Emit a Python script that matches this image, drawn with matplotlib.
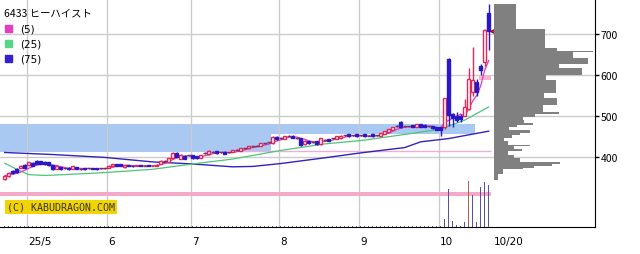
import matplotlib.pyplot as plt
import numpy as np
import pandas as pd
from matplotlib.patches import Rectangle

plt.rcParams['font.family'] = ['Noto Sans CJK JP', 'DejaVu Sans']

# daily candles 2025/4/22 .. 2025/10/20 (trading days)
opens = [346, 354, 367, 371, 373, 380, 380, 385, 390, 390, 389, 387, 380, 371, 375, 372,
         374, 371, 375, 371, 372, 372, 373, 373, 373, 372, 374, 377, 383, 382, 375, 380,
         379, 378, 380, 379, 380, 378, 379, 383, 391, 389, 397, 410, 396, 403, 405, 405,
         402, 398, 410, 407, 413, 414, 411, 413, 411, 412, 418, 415, 422, 421, 426, 428,
         428, 433, 436, 433, 449, 447, 444, 452, 452, 447, 446, 431, 438, 437, 438, 431,
         442, 444, 446, 444, 446, 453, 455, 453, 455, 453, 455, 452, 455, 453, 452, 457,
         460, 466, 476, 485, 475, 475, 478, 474, 480, 479, 475, 475, 472, 472, 472, 640,
         505, 500, 499, 501, 517, 559, 582, 623, 631, 751]
closes = [354, 361, 360, 364, 378, 374, 387, 379, 384, 384, 382, 380, 371, 379, 370, 372,
          370, 377, 371, 371, 370, 372, 371, 370, 373, 372, 379, 383, 379, 378, 380, 378,
          377, 380, 378, 379, 378, 379, 381, 391, 391, 397, 410, 400, 406, 396, 405, 397,
          398, 405, 410, 415, 413, 409, 411, 408, 411, 416, 418, 421, 422, 427, 426, 428,
          433, 433, 436, 449, 443, 447, 451, 452, 447, 447, 430, 440, 433, 437, 431, 446,
          442, 440, 446, 451, 452, 453, 450, 453, 450, 453, 450, 452, 450, 453, 458, 463,
          468, 472, 476, 472, 475, 475, 473, 480, 474, 474, 475, 470, 467, 466, 543, 502,
          495, 491, 492, 521, 590, 588, 558, 611, 711, 708]
highs = [356, 363, 368, 372, 380, 382, 389, 387, 392, 391, 390, 388, 381, 380, 376, 374,
         375, 378, 376, 373, 373, 373, 374, 374, 374, 374, 380, 384, 384, 383, 381, 381,
         380, 381, 381, 381, 381, 380, 382, 392, 393, 398, 411, 412, 407, 404, 406, 406,
         403, 406, 411, 416, 414, 415, 412, 414, 412, 417, 419, 422, 423, 428, 427, 429,
         434, 434, 437, 450, 450, 448, 452, 453, 453, 448, 447, 441, 439, 438, 439, 447,
         443, 445, 447, 452, 453, 454, 456, 454, 456, 454, 456, 453, 456, 454, 459, 464,
         469, 473, 477, 488, 476, 476, 479, 481, 481, 480, 476, 476, 473, 473, 543, 641,
         508, 510, 504, 541, 616, 668, 590, 626, 712, 773]
lows = [344, 352, 358, 362, 372, 372, 378, 377, 383, 383, 380, 379, 369, 370, 369, 370,
        369, 370, 370, 369, 369, 370, 370, 369, 371, 371, 373, 376, 378, 377, 374, 377,
        376, 377, 377, 378, 377, 377, 378, 382, 389, 388, 396, 399, 395, 395, 403, 396,
        396, 397, 408, 406, 411, 408, 409, 407, 409, 411, 416, 414, 420, 420, 424, 426,
        427, 431, 434, 432, 442, 445, 443, 450, 446, 445, 428, 430, 432, 435, 430, 430,
        440, 439, 444, 443, 445, 451, 449, 451, 449, 451, 449, 450, 449, 451, 451, 456,
        459, 465, 474, 470, 473, 473, 472, 473, 473, 473, 473, 469, 466, 452, 468, 476,
        474, 485, 486, 499, 515, 549, 549, 600, 622, 660]

# volume (thousand shares)
vol = [12] * 110 + [80, 380, 66, 23, 10, 53, 466, 326, 53, 406, 456, 426]

# 25 / 75 day moving averages (day index, price)
ma25_day = [0, 3, 6, 10, 15, 25, 37, 47, 57, 69, 80, 89, 100, 109, 115, 121]
ma25_val = [385, 370, 357, 355, 357, 362, 370, 383, 395, 416, 432, 440, 455, 468, 490, 522]
ma75_day = [0, 12, 25, 37, 47, 57, 62, 69, 80, 89, 100, 104, 111, 121]
ma75_val = [411, 406, 399, 388, 383, 376, 377, 384, 398, 410, 423, 437, 445, 463]

# price-by-volume profile
prof_lo = [712, 667, 659, 657, 641, 626, 618, 599, 589, 555, 543, 528, 510, 506, 498, 490,
           482, 478, 474, 466, 458, 454, 446, 438, 430, 426, 420, 414, 406, 398, 389, 383,
           379, 374, 370, 358, 345]
prof_hi = [773, 712, 667, 659, 657, 641, 626, 618, 599, 589, 555, 543, 528, 510, 506, 498,
           490, 482, 478, 474, 466, 458, 454, 446, 438, 430, 426, 420, 414, 406, 398, 389,
           383, 379, 374, 370, 358]
prof_vol = [22, 51, 63, 99, 79, 94, 65, 88, 52, 62, 50, 63, 49, 65, 41, 29,
            30, 39, 23, 15, 36, 26, 18, 10, 14, 36, 20, 28, 14, 20, 26, 66,
            58, 40, 29, 9, 4]

# resistance zone: top price, and lower edge per stretch of days
band_hi = 480
band_day = [-1.2, 66.5, 66.5, 117.5]
band_lo = [413, 413, 455, 455]
support_lo, support_hi = 304, 314 # support zone
pink_level = 414
target_lo, target_hi = 588, 598

month_pos = [5.5, 25.5, 46.5, 68.5, 88.5, 108.5]
month_lbl = ['25/5', '6', '7', '8', '9', '10']

n = len(closes)
days = np.arange(n)
o = np.array(opens)
c = np.array(closes)
h = np.array(highs)
l = np.array(lows)
ma5 = pd.Series(closes).rolling(5, min_periods=1).mean()

W, H = 640, 255
fig = plt.figure(figsize=(6.4, 2.55), dpi=100)
rect = [0, 1 - 228.3 / H, 595 / W, 228.3 / H]
ax = fig.add_axes(rect)
x0, x1 = -4.7 / 4, (595 - 4.7) / 4
ax.set_xlim(x0, x1)
ax.set_ylim(228.5, 785.4)

# zones
ax.fill_between(band_day, band_lo, band_hi, color='#a9c8f2', lw=0, zorder=0)
ax.fill_between([x0, 121.6], support_lo, support_hi, color='#f4a9c9', lw=0, zorder=1)
ax.hlines(pink_level, 55, 121.6, color='#eab0d8', lw=1, zorder=1)
ax.fill_between([118.6, 121.6], target_lo, target_hi, color='#f6b3d0', lw=0, zorder=1)

# grid
for p in month_pos:
    ax.axvline(p, color='#cccccc', lw=1, zorder=0.5)
for v in [400, 500, 600, 700]:
    ax.axhline(v, color='#cccccc', lw=1, zorder=0.5)

# volume
axv = fig.add_axes(rect, sharex=ax)
axv.set_ylim(0, 2283)
axv.axis('off')
vcol = ['#5b4fa0'] * n
vcol[116] = '#b0605a'
axv.bar(days, vol, width=0.3, color=vcol, lw=0)

# moving averages
ax.plot(ma75_day, ma75_val, color='#3522b8', lw=1, zorder=2)
ax.plot(ma25_day, ma25_val, color='#4cc47a', lw=0.9, zorder=2)
ax.plot(days, ma5, color='#e03cb4', lw=0.9, zorder=2)

# candles
up = c > o
dn = c < o
dj = c == o
ax.vlines(days[up], l[up], h[up], color='#e0285a', lw=1, zorder=3)
ax.vlines(days[dn], l[dn], h[dn], color='#2a18c8', lw=1, zorder=3)
ax.vlines(days[dj], l[dj], h[dj], color='#7a3060', lw=1, zorder=3)
ax.bar(days[up], (c - o)[up], bottom=o[up], width=0.7, facecolor='white',
       edgecolor='#e0285a', lw=1, zorder=4)
ax.bar(days[dn], (o - c)[dn], bottom=c[dn], width=0.7, facecolor='#2a18c8',
       edgecolor='#2a18c8', lw=1, zorder=4)
ax.hlines(c[dj], days[dj] - 0.45, days[dj] + 0.45, color='#7a3060', lw=1, zorder=4)

# last price marker
ax.plot(n + 0.3, closes[-1], marker='<', ms=6, mfc='#e82020', mec='#8a1010',
        mew=0.8, clip_on=False, zorder=6)

# price-by-volume
axp = fig.add_axes([494 / W, rect[1], (595 - 494) / W, rect[3]], sharey=ax)
axp.set_xlim(0, 101)
axp.barh(prof_lo, prof_vol, height=np.array(prof_hi) - np.array(prof_lo),
         align='edge', color='#808080', lw=0)
axp.axis('off')

# axes styling
for s in ['left', 'top']:
    ax.spines[s].set_visible(False)
ax.spines['right'].set_color('black')
ax.spines['bottom'].set_color('black')
ax.yaxis.tick_right()
ax.set_yticks([400, 500, 600, 700])
ax.tick_params(axis='y', direction='out', length=3, width=1, pad=1,
               labelsize=7.5, colors='black')
ax.set_xticks([])
for p, t in zip(month_pos, month_lbl):
    ax.text(p + 0.3, -0.04, t, transform=ax.get_xaxis_transform(), ha='left',
            va='top', fontsize=7.5, family='DejaVu Sans')
ax.text(n + 0.3, -0.04, '10/20', transform=ax.get_xaxis_transform(), ha='left',
        va='top', fontsize=7.5, family='DejaVu Sans')

# legend
fig.text(4 / W, 1 - 13 / H, '6433 ヒーハイスト', fontsize=7.5, va='center')
for k, (lbl, col) in enumerate([('(5)', '#e63cc0'), ('(25)', '#55d689'), ('(75)', '#3320d0')]):
    yy = 1 - (29.5 + 15 * k) / H
    fig.add_artist(Rectangle((5 / W, yy - 3.5 / H), 7 / W, 7 / H, color=col,
                             transform=fig.transFigure))
    fig.text(20 / W, yy, lbl, fontsize=7.5, va='center', family='DejaVu Sans')

fig.text(7 / W, 1 - 208 / H, '(C) KABUDRAGON.COM', fontsize=7.2, va='center',
         family='DejaVu Sans Mono', color='#333333',
         bbox=dict(boxstyle='square,pad=0.2', fc='#f2d400', ec='none'))

fig.savefig('out.png', dpi=100)
